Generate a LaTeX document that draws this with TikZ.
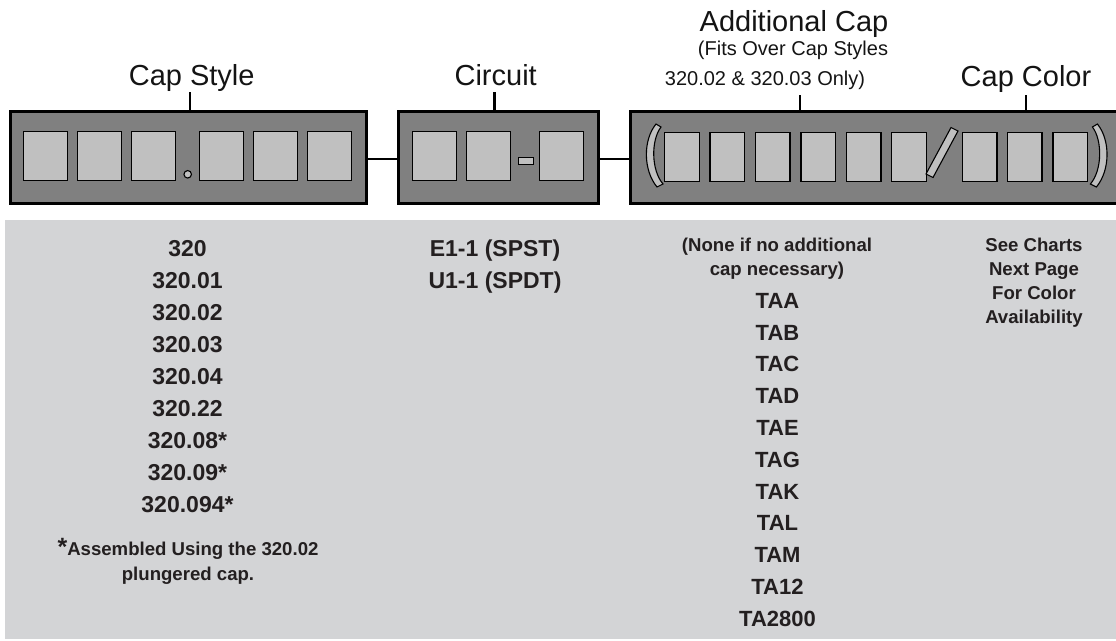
\documentclass[tikz,border=0pt]{standalone}
\usepackage{fontspec}
\setmainfont{Liberation Sans}
\definecolor{boxgray}{HTML}{808080}
\definecolor{slotgray}{HTML}{C0C0C0}
\definecolor{panelgray}{HTML}{D3D4D6}
\definecolor{inkdark}{HTML}{231F20}
\begin{document}
\begin{tikzpicture}[x=1pt,y=-1pt,
  field/.style={draw=black, fill=boxgray, line width=3pt, anchor=north west, inner sep=0, outer sep=0},
  slot/.style={draw=black, fill=slotgray, line width=1.3pt, anchor=north west, inner sep=0, outer sep=0, minimum height=49pt},
  wideslot/.style={slot, minimum width=44pt},
  narrowslot/.style={slot, minimum width=34.7pt},
  glyph/.style={draw=black, fill=slotgray, line width=1.1pt},
  conn/.style={draw=black, line width=2.6pt},
  toplab/.style={font=\fontsize{29}{29}\selectfont, text=black!92, anchor=base, inner sep=0},
  sublab/.style={font=\fontsize{20}{20}\selectfont, text=black!92, anchor=base, inner sep=0},
  ptxt/.style={font=\bfseries\fontsize{23}{23}\selectfont, text=inkdark, anchor=base, inner sep=0},
  ptxtb/.style={font=\bfseries\fontsize{22}{22}\selectfont, text=inkdark, anchor=base, inner sep=0},
  psmall/.style={font=\bfseries\fontsize{18.6}{18.6}\selectfont, text=inkdark, anchor=base, inner sep=0}
]
\useasboundingbox (0,0) rectangle (1116,640);

% ---------- field boxes ----------
\node[field, minimum width=356pt, minimum height=92pt] (capstyle) at (10,111) {};
\node[field, minimum width=200pt, minimum height=92pt] (circuit) at (398,111) {};
\node[field, minimum width=492pt, minimum height=92pt] (addcap) at (630,111) {};

% connectors between boxes
\coordinate (wy) at (0,159);
\draw[conn] (capstyle.east |- wy) -- (circuit.west |- wy);
\draw[conn] (circuit.east |- wy) -- (addcap.west |- wy);

% ---------- slots ----------
\foreach \x [count=\i] in {23.3,77.3,131.3,199.3,253.3,307.3}
  \node[wideslot] (cs\i) at (\x,131.7) {};
\node[glyph, circle, inner sep=0, minimum size=7.5pt] (csdot) at (187.7,174.3) {};

\foreach \x [count=\i] in {412.3,466.7,539.7}
  \node[wideslot] (ci\i) at (\x,131.7) {};
\node[glyph, rectangle, inner sep=0, anchor=north west, minimum width=15pt, minimum height=6.7pt] (cidash) at (517.7,157) {};

\foreach \x [count=\i] in {664.7,710,755.3,801,846.3,891.7,962.3,1007.3,1053}
  \node[narrowslot] (ac\i) at (\x,132.3) {};

% parentheses and slash
\draw[glyph] (656,124) .. controls (643,140) and (643,170) .. (657,187) -- (663,184) .. controls (651,170) and (651,140) .. (661,127) -- cycle;
\draw[glyph] (1097.4,124) .. controls (1110.4,140) and (1110.4,170) .. (1096.4,187) -- (1090.4,184) .. controls (1102.4,170) and (1102.4,140) .. (1092.4,127) -- cycle;
\draw[glyph] (926,174) -- (933,177.5) -- (958,131) -- (951,127.5) -- cycle;

% ---------- top labels ----------
\node[toplab] (lcap) at (191.7,85) {Cap Style};
\node[toplab] (lcirc) at (495.7,85) {Circuit};
\node[toplab] (ladd) at (794,31.7) {Additional Cap};
\node[sublab] (lfits) at (793,55.5) {(Fits Over Cap Styles};
\node[sublab] (lonly) at (765,85) {320.02 \& 320.03 Only)};
\node[toplab] (lcol) at (1026,86) {Cap Color};

\coordinate (t1) at (190,92);
\coordinate (t2) at (494.3,92);
\coordinate (t3) at (800,95);
\coordinate (t4) at (1026,95);
\draw[conn] (t1) -- (t1 |- capstyle.north);
\draw[conn] (t2) -- (t2 |- circuit.north);
\draw[conn] (t3) -- (t3 |- addcap.north);
\draw[conn] (t4) -- (t4 |- addcap.north);

% ---------- lower panel ----------
\node[fill=panelgray, anchor=north west, inner sep=0, outer sep=0, minimum width=1111pt, minimum height=419pt] (panel) at (5,220) {};

\foreach \t [count=\i from 0] in {320,320.01,320.02,320.03,320.04,320.22,320.08*,320.09*,320.094*}
  \node[ptxt] (csv\i) at (187.5,256+32*\i) {\t};
\node[psmall] (fn1) at (188,555) {{\fontsize{25}{25}\selectfont *}Assembled Using the 320.02};
\node[psmall] (fn2) at (188,580) {plungered cap.};

\node[ptxt] (civ1) at (495,256) {E1-1 (SPST)};
\node[ptxt] (civ2) at (495,288) {U1-1 (SPDT)};

\node[psmall] (none1) at (777,251.7) {(None if no additional};
\node[psmall] (none2) at (777,275) {cap necessary)};
\foreach \t [count=\i from 0] in {TAA,TAB,TAC,TAD,TAE,TAG,TAK,TAL,TAM,TA12,TA2800}
  \node[ptxtb] (acv\i) at (777.5,308.3+31.8*\i) {\t};

\node[psmall] (cc1) at (1034,251.7) {See Charts};
\node[psmall] (cc2) at (1034,275.7) {Next Page};
\node[psmall] (cc3) at (1034,299.7) {For Color};
\node[psmall] (cc4) at (1034,323.7) {Availability};
\end{tikzpicture}
\end{document}
